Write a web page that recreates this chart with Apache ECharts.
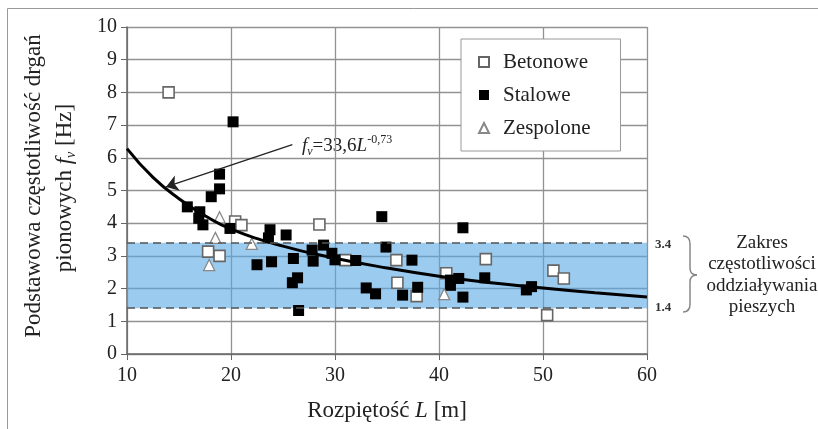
<!DOCTYPE html>
<html><head><meta charset="utf-8">
<script src="https://cdn.jsdelivr.net/npm/echarts@6/dist/echarts.min.js"></script>
<style>html,body{margin:0;padding:0;background:#fff}#c{width:818px;height:429px}</style>
</head><body><div id="c"></div>
<script>
const SERIF = "'Liberation Serif','Times New Roman',serif";
const xMin = 10, xMax = 60, xStep = 10;
const yMin = 0, yMax = 10, yStep = 1;
const bandLow = 1.4, bandHigh = 3.4;

const betonowe = [[14.0,8.0],[20.4,4.05],[21.0,3.94],[17.8,3.13],[18.9,3.0],[28.5,3.96],[31.0,2.87],[35.9,2.87],[36.0,2.18],[37.85,1.77],[40.7,2.47],[44.5,2.9],[51.0,2.55],[52.0,2.31],[50.4,1.19]];
const stalowe = [[20.2,7.1],[18.9,5.5],[18.9,5.05],[18.1,4.81],[15.8,4.5],[17.0,4.35],[16.9,4.15],[17.3,3.95],[19.9,3.84],[23.75,3.8],[23.6,3.55],[25.3,3.64],[22.5,2.73],[23.9,2.82],[26.0,2.92],[25.9,2.18],[26.4,2.33],[26.5,1.33],[27.8,3.18],[27.9,2.84],[28.9,3.33],[29.7,3.08],[30.0,2.88],[32.0,2.86],[34.5,4.2],[34.9,3.27],[37.4,2.87],[33.0,2.02],[33.9,1.84],[36.5,1.8],[37.95,2.04],[42.3,3.86],[41.1,2.26],[41.9,2.31],[41.1,2.1],[42.3,1.74],[44.4,2.33],[48.4,1.96],[48.9,2.06]];
const zespolone = [[18.9,4.18],[18.5,3.55],[22.0,3.37],[17.9,2.72],[40.5,1.83]];
const curveL = [10,12.5,15,17.5,20,25,30,35,40,45,50,55,60];
const curveF = [6.28,5.4,4.75,4.23,3.82,3.3,2.93,2.63,2.38,2.18,2.02,1.87,1.74];
const arrowFrom = [25.9,6.4], arrowTo = [13.75,5.11];

const chart = echarts.init(document.getElementById('c'), null, {renderer:'canvas'});
const braceStyle = {fill:'none',stroke:'#888',lineWidth:1.5};
chart.setOption({
  animation:false,
  backgroundColor:'#fff',
  grid:{left:127,right:171,top:27,bottom:75,containLabel:false},
  xAxis:{type:'value',min:xMin,max:xMax,interval:xStep,
    axisLine:{show:true,onZero:false,lineStyle:{color:'#666',width:1.5}},
    axisTick:{show:true,length:6,lineStyle:{color:'#666'}},
    axisLabel:{fontFamily:SERIF,fontSize:20,color:'#222',margin:12},
    splitLine:{show:true,lineStyle:{color:'#929292',width:1.3}},
    name:'Rozpiętość {i|L} [m]',nameLocation:'middle',nameGap:45,
    nameTextStyle:{fontFamily:SERIF,fontSize:23,color:'#222',rich:{i:{fontFamily:SERIF,fontSize:23,fontStyle:'italic',color:'#222'}}}
  },
  yAxis:{type:'value',min:yMin,max:yMax,interval:yStep,
    axisLine:{show:true,onZero:false,lineStyle:{color:'#666',width:1.5}},
    axisTick:{show:true,length:6,lineStyle:{color:'#666'}},
    axisLabel:{fontFamily:SERIF,fontSize:20,color:'#222',margin:10},
    splitLine:{show:true,lineStyle:{color:'#929292',width:1.3}}
  },
  legend:{left:461,top:39,orient:'vertical',padding:[12,30,12,17],itemGap:11,
    backgroundColor:'#fff',borderColor:'#999',borderWidth:1,
    itemWidth:10,itemHeight:10,
    textStyle:{fontFamily:SERIF,fontSize:21,color:'#222',lineHeight:22,padding:[0,0,0,9]},
    data:['Betonowe','Stalowe','Zespolone']},
  series:[
    {name:'band',type:'line',data:[],z:1,silent:true,
      markArea:{silent:true,itemStyle:{color:'rgba(88,168,228,0.6)'},data:[[{yAxis:bandLow},{yAxis:bandHigh}]]},
      markLine:{silent:true,symbol:['none','none'],label:{show:false},
        lineStyle:{color:'#555',width:1.6,type:[8,5]},
        data:[{yAxis:bandLow},{yAxis:bandHigh}]}
    },
    {name:'Betonowe',type:'scatter',symbol:'rect',symbolSize:11,z:3,data:betonowe,
      itemStyle:{color:'#fff',borderColor:'#666',borderWidth:1.6,opacity:1}},
    {name:'Stalowe',type:'scatter',symbol:'rect',symbolSize:11,z:3,data:stalowe,
      itemStyle:{color:'#000',opacity:1}},
    {name:'Zespolone',type:'scatter',symbol:'triangle',symbolSize:11,z:3,data:zespolone,
      itemStyle:{color:'#fff',borderColor:'#888',borderWidth:1.3,opacity:1}},
    {name:'curve',type:'line',smooth:true,showSymbol:false,symbol:'none',z:4,
      data:curveL.map((l,i)=>[l,curveF[i]]),
      lineStyle:{color:'#000',width:3}
    },
    {name:'arrow',type:'line',data:[],z:6,silent:true,
      markLine:{silent:true,symbol:['none','arrow'],symbolSize:12,label:{show:false},
        itemStyle:{color:'#222'},
        lineStyle:{color:'#222',width:1.3,type:'solid'},
        data:[[{coord:arrowFrom},{coord:arrowTo}]]}
    }
  ],
  graphic:[
    {type:'rect',shape:{x:7.5,y:8.5,width:900,height:600},style:{fill:'none',stroke:'#999',lineWidth:1},silent:true},
    {type:'text',x:34,y:186,rotation:Math.PI/2,silent:true,
      style:{text:'Podstawowa częstotliwość drgań',align:'center',verticalAlign:'middle',fontFamily:SERIF,fontSize:23,fill:'#222'}},
    {type:'text',x:65,y:188,rotation:Math.PI/2,silent:true,
      style:{text:'pionowych {f|f}{v|v} [Hz]',align:'center',verticalAlign:'middle',fontFamily:SERIF,fontSize:23,fill:'#222',
        rich:{f:{fontFamily:SERIF,fontSize:23,fontStyle:'italic',fill:'#222',lineHeight:26},
              v:{fontFamily:SERIF,fontSize:14,fontStyle:'italic',fill:'#222',verticalAlign:'bottom'}}}},
    {type:'text',x:302,y:146,silent:true,
      style:{text:'{f|f}{v|v}{t|=33,6}{L|L}{s|-0,73}',align:'left',verticalAlign:'middle',fontFamily:SERIF,fontSize:19,fill:'#222',
        rich:{f:{fontFamily:SERIF,fontSize:19,fontStyle:'italic',fill:'#222',lineHeight:24},
              v:{fontFamily:SERIF,fontSize:12,fontStyle:'italic',fill:'#222',verticalAlign:'bottom'},
              t:{fontFamily:SERIF,fontSize:19,fill:'#222',lineHeight:24},
              L:{fontFamily:SERIF,fontSize:19,fontStyle:'italic',fill:'#222',lineHeight:24},
              s:{fontFamily:SERIF,fontSize:12,fill:'#222',verticalAlign:'top'}}}},
    {type:'text',x:663,y:245,silent:true,style:{text:'3.4',align:'center',verticalAlign:'middle',fontFamily:SERIF,fontSize:13,fontWeight:'bold',fill:'#333'}},
    {type:'text',x:663,y:308,silent:true,style:{text:'1.4',align:'center',verticalAlign:'middle',fontFamily:SERIF,fontSize:13,fontWeight:'bold',fill:'#333'}},
    {type:'bezierCurve',silent:true,shape:{x1:683,y1:236,cpx1:690,cpy1:236,x2:690,y2:244},style:braceStyle},
    {type:'line',silent:true,shape:{x1:690,y1:244,x2:690,y2:268},style:braceStyle},
    {type:'bezierCurve',silent:true,shape:{x1:690,y1:268,cpx1:690,cpy1:275,x2:697,y2:275},style:braceStyle},
    {type:'bezierCurve',silent:true,shape:{x1:697,y1:275,cpx1:690,cpy1:275,x2:690,y2:282},style:braceStyle},
    {type:'line',silent:true,shape:{x1:690,y1:282,x2:690,y2:304},style:braceStyle},
    {type:'bezierCurve',silent:true,shape:{x1:690,y1:304,cpx1:690,cpy1:312,x2:683,y2:312},style:braceStyle},
    {type:'text',x:762,y:243,silent:true,style:{text:'Zakres',align:'center',verticalAlign:'middle',fontFamily:SERIF,fontSize:19,fill:'#222'}},
    {type:'text',x:762,y:264,silent:true,style:{text:'częstotliwości',align:'center',verticalAlign:'middle',fontFamily:SERIF,fontSize:19,fill:'#222'}},
    {type:'text',x:762,y:286,silent:true,style:{text:'oddziaływania',align:'center',verticalAlign:'middle',fontFamily:SERIF,fontSize:19,fill:'#222'}},
    {type:'text',x:762,y:307,silent:true,style:{text:'pieszych',align:'center',verticalAlign:'middle',fontFamily:SERIF,fontSize:19,fill:'#222'}}
  ]
});
</script>
</body></html>
